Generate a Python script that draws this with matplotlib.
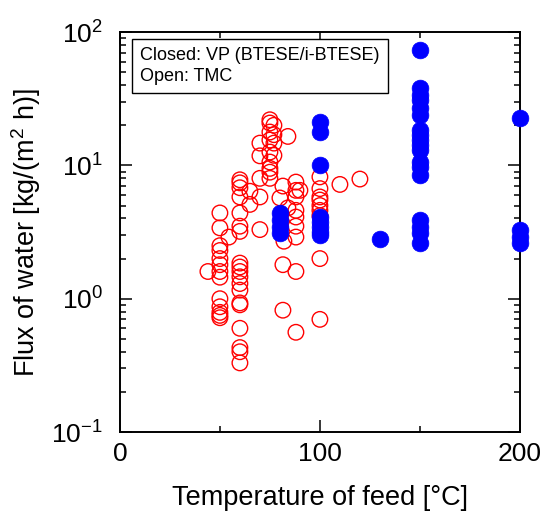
import numpy as np
import matplotlib
matplotlib.use('Agg')
import matplotlib.pyplot as plt
from matplotlib.ticker import LogLocator, LogFormatterSciNotation, NullFormatter, MultipleLocator

plt.rcParams['font.family'] = ['Liberation Sans', 'DejaVu Sans']
plt.rcParams['mathtext.fontset'] = 'custom'
plt.rcParams['mathtext.rm'] = 'Liberation Sans'
plt.rcParams['mathtext.it'] = 'Liberation Sans:italic'
plt.rcParams['axes.unicode_minus'] = False

# open symbols: TMC
open_temp = [44,
             50, 50, 50, 50, 50, 50, 50, 50, 50, 50, 50, 50, 50,
             54.5,
             60, 60, 60, 60, 60, 60, 60, 60, 60, 60, 60, 60, 60, 60, 60, 60, 60, 60, 60,
             65, 65,
             70, 70, 70, 70, 70,
             75, 75, 75, 75, 75, 75, 75, 75, 75,
             77, 77, 77, 77,
             80, 81.5, 84, 84, 82, 81.5, 81.5,
             88, 88, 88, 88, 88, 88, 88, 88, 88,
             90,
             100, 100, 100, 100, 100, 100, 100, 100, 100,
             110, 120]
open_flux = [1.6,
             4.4, 3.4, 2.5, 2.3, 2.0, 1.8, 1.6, 1.45, 1.0, 0.87, 0.79, 0.75, 0.72,
             2.9,
             7.8, 7.4, 6.8, 5.8, 4.4, 3.5, 3.2, 1.85, 1.73, 1.6, 1.46, 1.3, 1.16, 0.93, 0.9, 0.6, 0.43, 0.4, 0.33,
             6.4, 5.1,
             14.7, 11.8, 8.0, 5.8, 3.3,
             22, 20.8, 17.8, 15.5, 12.6, 10.6, 9.5, 8.9, 8.0,
             20, 17, 14.7, 11.9,
             5.7, 7.0, 4.8, 16.5, 2.7, 1.8, 0.82,
             7.5, 6.5, 5.8, 4.6, 4.1, 3.5, 2.9, 1.6, 0.56,
             6.5,
             8.2, 6.7, 5.8, 5.5, 5.0, 4.6, 4.2, 2.0, 0.7,
             7.2, 7.9]

# closed symbols: VP (BTESE/i-BTESE)
closed_temp = [80, 80, 80, 80,
               100, 100, 100, 100, 100, 100, 100, 100,
               130,
               150, 150, 150, 150, 150, 150, 150, 150, 150, 150, 150, 150, 150, 150, 150, 150, 150, 150,
               200, 200, 200, 200]
closed_flux = [4.4, 3.9, 3.45, 3.1,
               21.2, 17.8, 10.1, 4.1, 3.76, 3.45, 3.16, 3.0,
               2.8,
               73, 38, 34, 31, 27, 24, 18.4, 16.9, 15.5, 14.2, 13.1, 10.6, 9.7, 8.5, 3.9, 3.45, 3.1, 2.62,
               22.7, 3.25, 2.9, 2.62]

fig = plt.figure(figsize=(5.45, 5.18), dpi=100)
ax = fig.add_axes([0.220, 0.166, 0.734, 0.772])

ax.scatter(open_temp, open_flux, s=125, facecolors='none', edgecolors='#FF0000',
           linewidths=1.0, clip_on=False, zorder=2)
ax.scatter(closed_temp, closed_flux, s=145, facecolors='#0000FF', edgecolors='#0000FF',
           linewidths=0.5, clip_on=False, zorder=3)

ax.set_yscale('log')
ax.set_xlim(0, 200)
ax.set_ylim(0.1, 100)

ax.xaxis.set_major_locator(MultipleLocator(100))
ax.xaxis.set_minor_locator(MultipleLocator(50))
ax.yaxis.set_major_locator(LogLocator(base=10, subs=(1.0,)))
ax.yaxis.set_major_formatter(LogFormatterSciNotation())
ax.yaxis.set_minor_locator(LogLocator(base=10, subs=(2, 3, 4, 5, 6, 7, 8, 9)))
ax.yaxis.set_minor_formatter(NullFormatter())

ax.tick_params(which='both', direction='in', top=True, right=True, width=1.1)
ax.tick_params(which='major', length=8.5, labelsize=19, pad=7)
ax.tick_params(which='minor', length=4.5)
ax.tick_params(axis='y', which='major', pad=12)
for sp in ax.spines.values():
    sp.set_linewidth(1.4)

# longer ticks at 5 x 10^n, like the reference
for t in ax.yaxis.get_minor_ticks():
    loc = t.get_loc()
    if loc > 0:
        m = loc / 10 ** np.floor(np.log10(loc) + 1e-9)
        if abs(m - 5) < 1e-6:
            t.tick1line.set_markersize(8.5)
            t.tick2line.set_markersize(8.5)

ax.set_xlabel('Temperature of feed [°C]', fontsize=19.5, labelpad=14)
ax.set_ylabel('Flux of water [kg/(m$^2$ h)]', fontsize=19.5, labelpad=6)

ax.text(0.05, 0.962, 'Closed: VP (BTESE/i-BTESE)\nOpen: TMC', transform=ax.transAxes,
        fontsize=13, va='top', ha='left', linespacing=1.3,
        bbox=dict(boxstyle='square,pad=0.45', facecolor='white', edgecolor='black', linewidth=1.0),
        zorder=5)

fig.savefig('out.png', dpi=100)
